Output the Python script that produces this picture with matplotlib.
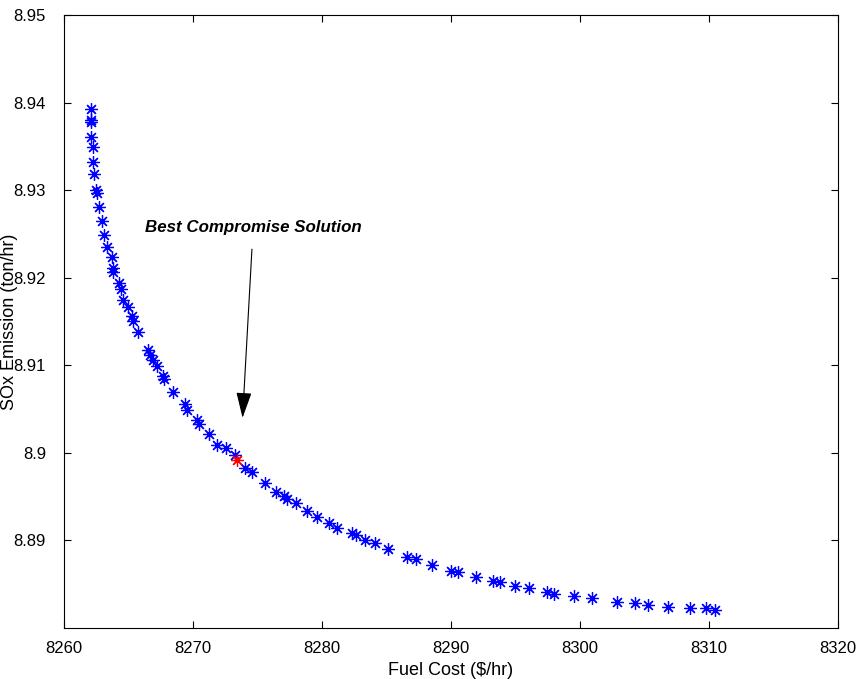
import matplotlib.pyplot as plt
from matplotlib.ticker import FormatStrFormatter, FuncFormatter

plt.rcParams['font.family'] = ['Liberation Sans', 'DejaVu Sans']

# Pareto front
fuel_cost = [8262.07, 8262.07, 8262.09, 8262.09, 8262.24, 8262.24, 8262.32, 8262.47,
             8262.53, 8262.71, 8262.94, 8263.09, 8263.33, 8263.71, 8263.79, 8263.79,
             8264.25, 8264.41, 8264.56, 8264.95, 8265.26, 8265.34, 8265.72, 8266.50,
             8266.65, 8266.88, 8267.19, 8267.66, 8267.73, 8268.43, 8269.36, 8269.51,
             8270.29, 8270.44, 8271.21, 8271.83, 8272.53, 8273.23, 8274.00, 8274.54,
             8275.55, 8276.47, 8277.09, 8277.25, 8278.02, 8278.87, 8279.64, 8280.57,
             8281.19, 8282.35, 8282.66, 8283.36, 8284.13, 8285.14, 8286.60, 8287.30,
             8288.54, 8290.01, 8290.55, 8291.94, 8293.26, 8293.80, 8294.96, 8296.04,
             8297.43, 8297.97, 8299.52, 8300.91, 8302.85, 8304.24, 8305.24, 8306.79,
             8308.49, 8309.73, 8310.43]
sox = [8.9393, 8.9380, 8.9378, 8.9361, 8.9349, 8.9332, 8.9318, 8.9300,
       8.9297, 8.9281, 8.9265, 8.9249, 8.9235, 8.9224, 8.9211, 8.9207,
       8.9194, 8.9187, 8.9175, 8.9166, 8.9156, 8.9151, 8.9138, 8.9118,
       8.9112, 8.9106, 8.9099, 8.9088, 8.9084, 8.9070, 8.9056, 8.9049,
       8.9037, 8.9033, 8.9022, 8.9009, 8.9006, 8.8998, 8.8983, 8.8978,
       8.8966, 8.8955, 8.8951, 8.8947, 8.8943, 8.8934, 8.8927, 8.8920,
       8.8914, 8.8909, 8.8906, 8.8901, 8.8897, 8.8890, 8.8881, 8.8879,
       8.8872, 8.8865, 8.8864, 8.8858, 8.8854, 8.8852, 8.8848, 8.8846,
       8.8841, 8.8839, 8.8836, 8.8834, 8.8830, 8.8829, 8.8826, 8.8824,
       8.8823, 8.8823, 8.8821]
best_cost = 8273.38
best_sox = 8.8992

fig = plt.figure(figsize=(8.64, 6.79), dpi=100)
ax = fig.add_axes([0.0741, 0.0751, 0.8958, 0.9028])

ast = (8, 2, 0)
ax.plot(fuel_cost, sox, linestyle='none', marker=ast, markersize=9,
        markeredgewidth=0.9, color='blue')
ax.plot([best_cost], [best_sox], linestyle='none', marker=ast, markersize=9,
        markeredgewidth=0.9, color='red')

ax.annotate('Best Compromise Solution', xy=(8273.84, 8.9040),
            xytext=(8274.66, 8.9257), ha='center', va='center',
            fontsize=12.2, fontstyle='italic', fontweight='bold',
            arrowprops=dict(arrowstyle='-|>,head_length=1.0,head_width=0.3',
                            color='black', lw=0.8,
                            mutation_scale=16, shrinkA=8, shrinkB=0))

ax.set_xlim(8260, 8320)
ax.set_ylim(8.88, 8.95)
ax.set_xticks(range(8260, 8321, 10))
ax.set_yticks([8.89, 8.90, 8.91, 8.92, 8.93, 8.94, 8.95])
ax.xaxis.set_major_formatter(FormatStrFormatter('%d'))
ax.yaxis.set_major_formatter(FuncFormatter(lambda v, p: '%g' % round(v, 2)))
ax.tick_params(direction='in', top=True, right=True, labelsize=12, length=5)
ax.tick_params(axis='x', pad=9)
ax.tick_params(axis='y', pad=13)

ax.set_xlabel('Fuel Cost (\\$/hr)', fontsize=13)
ax.set_ylabel('SOx Emission (ton/hr)', fontsize=13)
ax.xaxis.set_label_coords(0.5, -0.055)
ax.yaxis.set_label_coords(-0.059, 0.5)

plt.savefig('out.png', dpi=100)
